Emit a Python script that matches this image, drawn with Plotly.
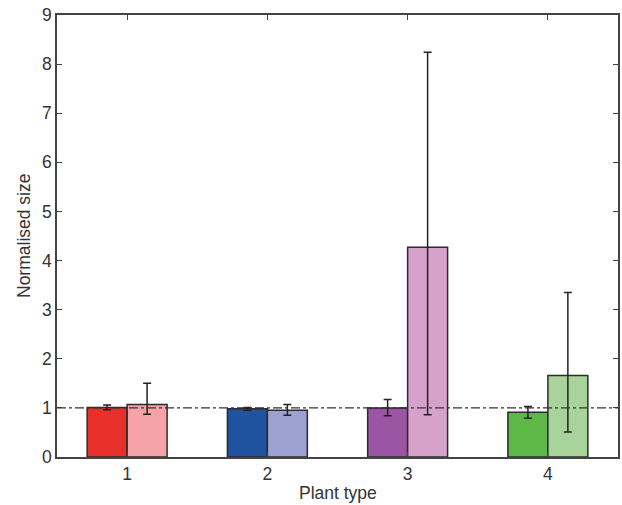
import plotly.graph_objects as go

plant_types = [1, 2, 3, 4]
tick_labels = ["1", "2", "3", "4"]

# Series A (darker bars)
values_a = [1.01, 0.98, 1.00, 0.91]
err_a_plus = [0.05, 0.03, 0.17, 0.12]
err_a_minus = [0.05, 0.03, 0.16, 0.12]
colors_a = ["#E8302A", "#1F529F", "#9B56A3", "#5DB847"]

# Series B (lighter bars)
values_b = [1.07, 0.95, 4.27, 1.66]
err_b_plus = [0.43, 0.12, 3.97, 1.69]
err_b_minus = [0.20, 0.10, 3.41, 1.15]
colors_b = ["#F5A3A7", "#9DA1D1", "#D6A2CC", "#A8D49B"]

reference_level = 1
y_ticks = list(range(0, 10))
x_title = "Plant type"
y_title = "Normalised size"

fig = go.Figure()
for vals, ep, em, cols in [(values_a, err_a_plus, err_a_minus, colors_a),
                           (values_b, err_b_plus, err_b_minus, colors_b)]:
    fig.add_trace(go.Bar(
        x=plant_types, y=vals,
        marker=dict(color=cols, line=dict(color="#2b2b2b", width=1.5)),
        error_y=dict(type="data", symmetric=False, array=ep, arrayminus=em,
                     color="#222222", thickness=1.5, width=4),
        showlegend=False,
    ))

fig.add_shape(type="line", xref="paper", yref="y", x0=0, x1=1,
              y0=reference_level, y1=reference_level,
              line=dict(color="#333333", width=1.2, dash="dashdot"), layer="above")

axis_font = dict(family="Liberation Sans, Arial, sans-serif", size=17.5, color="#333333")
L, R, T, B, W, H = 57, 4, 15, 48, 622, 505
pw, ph = W - L - R, H - T - B

fig.add_annotation(text=y_title, textangle=-90, xref="paper", yref="paper",
                   x=(24 - L) / pw, y=0.5, xanchor="center", yanchor="middle",
                   showarrow=False, font=axis_font)
fig.add_annotation(text=x_title, xref="paper", yref="paper",
                   x=0.5, y=-(493 - (T + ph)) / ph, xanchor="center", yanchor="middle",
                   showarrow=False, font=axis_font)

fig.update_layout(
    width=W, height=H,
    margin=dict(l=L, r=R, t=T, b=B),
    paper_bgcolor="white", plot_bgcolor="white",
    barmode="group", bargap=0.43, bargroupgap=0,
    font=axis_font,
    xaxis=dict(range=[0.5, 4.5], tickvals=plant_types, ticktext=tick_labels,
               showline=True, linecolor="#444444", linewidth=1.5, mirror="ticks",
               ticks="inside", ticklen=5, tickcolor="#444444", showgrid=False,
               zeroline=False, automargin=False),
    yaxis=dict(range=[0, 9], tickvals=y_ticks,
               showline=True, linecolor="#444444", linewidth=1.5, mirror="ticks",
               ticks="inside", ticklen=5, tickcolor="#444444", showgrid=False,
               zeroline=False, automargin=False),
)

post = ("document.body.style.margin='0';document.body.style.overflow='hidden';"
        "var gd=document.getElementById('{plot_id}');"
        "Plotly.relayout(gd,{width:622,height:505});")
fig.write_html("out.html", post_script=post, config={"displayModeBar": False})
